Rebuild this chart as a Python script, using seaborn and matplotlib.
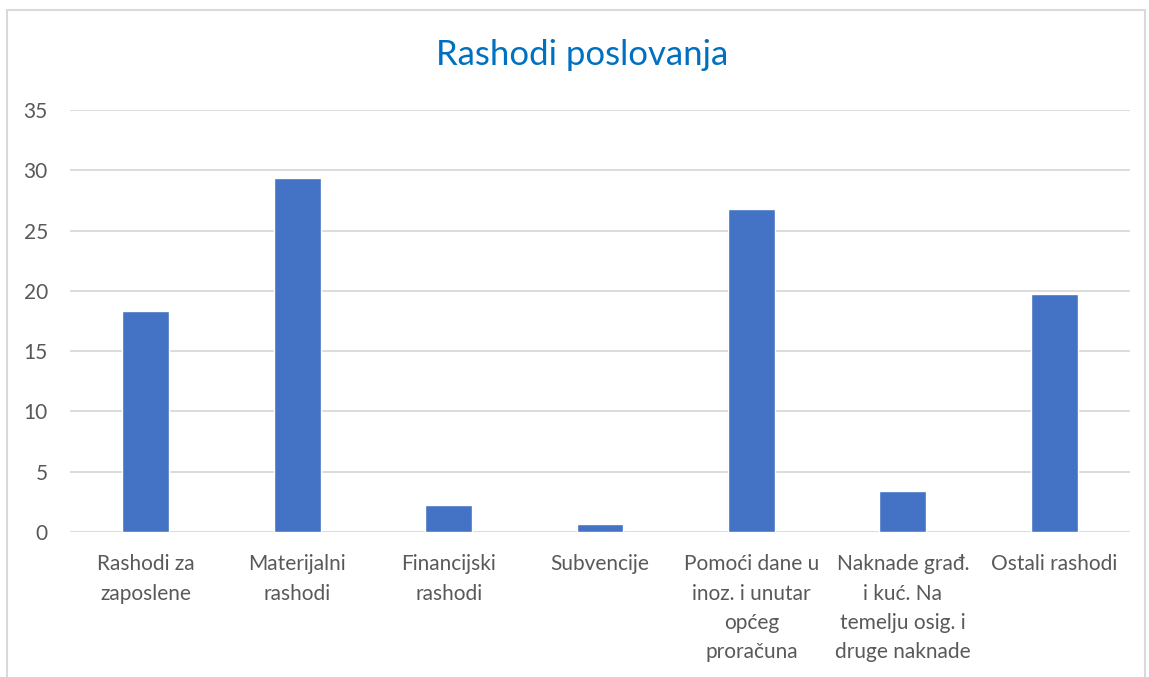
import matplotlib
matplotlib.use("Agg")
import matplotlib.pyplot as plt
import seaborn as sns
import pandas as pd
from matplotlib.patches import Rectangle

categories = [
    "Rashodi za\nzaposlene",
    "Materijalni\nrashodi",
    "Financijski\nrashodi",
    "Subvencije",
    "Pomoći dane u\ninoz. i unutar\nopćeg\nproračuna",
    "Naknade građ.\ni kuć. Na\ntemelju osig. i\ndruge naknade",
    "Ostali rashodi",
]
values = [18.3, 29.4, 2.2, 0.7, 26.8, 3.4, 19.7]
yticks = [0, 5, 10, 15, 20, 25, 30, 35]

sns.set_theme(style="white")
plt.rcParams['font.family'] = ['Lato', 'DejaVu Sans']

df = pd.DataFrame({"cat": categories, "val": values})

fig = plt.figure(figsize=(11.49, 6.77), dpi=100)
ax = fig.add_axes([70/1149, 1-532/677, (1130-70)/1149, (532-110)/677])

sns.barplot(data=df, x="cat", y="val", color="#4472C4", width=0.31,
            saturation=1, ax=ax, zorder=3)

ax.set_ylim(0, 35)
ax.set_yticks(yticks)
ax.set_xlim(-0.5, len(categories)-0.5)
ax.yaxis.grid(True, color="#D9D9D9", linewidth=1.3, zorder=0)
ax.set_axisbelow(True)
for s in ax.spines.values():
    s.set_visible(False)
ax.set_xlabel("")
ax.set_ylabel("")
ax.tick_params(axis='both', length=0, colors="#595959", labelsize=15)
ax.tick_params(axis='y', pad=16)
ax.tick_params(axis='x', pad=16)
for lbl in ax.get_yticklabels():
    lbl.set_horizontalalignment('right')
for lbl in ax.get_xticklabels():
    lbl.set_linespacing(1.58)
    lbl.set_verticalalignment('top')

fig.text(582/1149, 1-55/677, "Rashodi poslovanja", ha="center", va="center",
         fontsize=25, color="#0070C0")

fig.patches.append(Rectangle((7/1149, -0.1), (1145-7)/1149, 1.1-10/677,
                             transform=fig.transFigure, fill=False,
                             edgecolor="#D9D9D9", linewidth=1.5))

fig.savefig("out.png", dpi=100)
